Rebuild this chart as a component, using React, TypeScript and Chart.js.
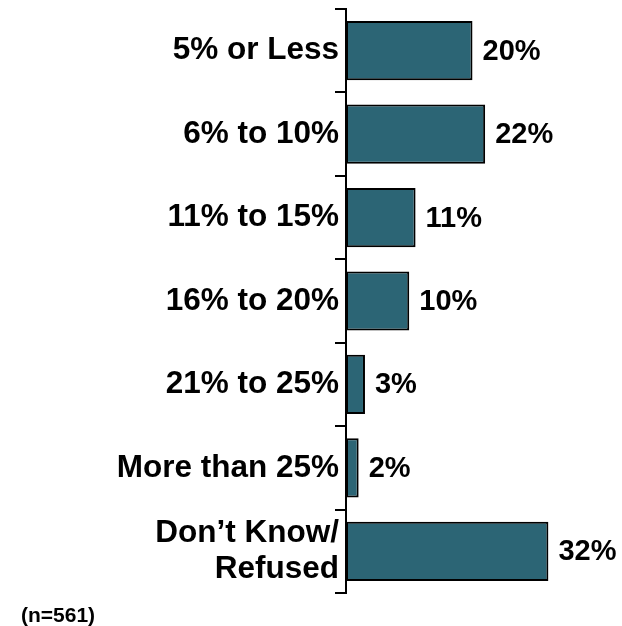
import React, { useEffect, useRef } from "react";
import { Chart, registerables } from "chart.js";

Chart.register(...registerables);

const categories: (string | string[])[] = [
  "5% or Less",
  "6% to 10%",
  "11% to 15%",
  "16% to 20%",
  "21% to 25%",
  "More than 25%",
  ["Don\u2019t Know/", "Refused"],
];
const values: number[] = [20, 22, 11, 10, 3, 2, 32];
const sampleNote = "(n=561)";

const FONT = "'Liberation Sans', Arial, Helvetica, sans-serif";

const valueLabelPlugin = {
  id: "valueLabels",
  afterDatasetsDraw(chart: any) {
    const ctx = chart.ctx;
    const meta = chart.getDatasetMeta(0);
    ctx.save();
    ctx.font = `bold 29px ${FONT}`;
    ctx.fillStyle = "#000";
    ctx.textAlign = "left";
    ctx.textBaseline = "middle";
    meta.data.forEach((bar: any, i: number) => {
      ctx.fillText(`${values[i]}%`, bar.x + 10, bar.y + 1);
    });
    ctx.restore();
  },
};

export default function App() {
  const canvasRef = useRef<HTMLCanvasElement | null>(null);

  useEffect(() => {
    document.body.style.margin = "0";
    const canvas = canvasRef.current;
    if (!canvas) return;
    const chart = new Chart(canvas, {
      type: "bar",
      data: {
        labels: categories,
        datasets: [
          {
            data: values,
            backgroundColor: "#2C6575",
            borderColor: "#000000",
            borderWidth: 2,
            borderSkipped: false,
            categoryPercentage: 1,
            barPercentage: 0.71,
          },
        ],
      },
      options: {
        indexAxis: "y",
        animation: false,
        responsive: false,
        maintainAspectRatio: false,
        layout: { padding: { top: 9, bottom: 33, right: 23, left: 0 } },
        plugins: {
          legend: { display: false },
          tooltip: { enabled: false },
        },
        scales: {
          x: {
            display: false,
            min: 0,
            max: 40,
          },
          y: {
            afterFit: (scale: any) => {
              scale.width = 346;
              scale.paddingTop = 0;
              scale.paddingBottom = 0;
            },
            border: { display: true, color: "#000", width: 2 },
            grid: {
              offset: true,
              drawOnChartArea: false,
              drawTicks: true,
              tickLength: 11,
              color: "#000",
              lineWidth: 2,
            },
            ticks: {
              color: "#000",
              padding: -4,
              font: { family: FONT, size: 31.5, weight: "bold", lineHeight: 1.15 },
            },
          },
        },
      },
      plugins: [valueLabelPlugin],
    });
    return () => chart.destroy();
  }, []);

  return (
    <div style={{ position: "relative", width: 622, height: 626 }}>
      <canvas ref={canvasRef} width={622} height={626} style={{ display: "block" }} />
      <div
        style={{
          position: "absolute",
          left: 21,
          top: 604,
          fontFamily: FONT,
          fontWeight: "bold",
          fontSize: 21,
          lineHeight: "22px",
          color: "#000",
        }}
      >
        {sampleNote}
      </div>
    </div>
  );
}
